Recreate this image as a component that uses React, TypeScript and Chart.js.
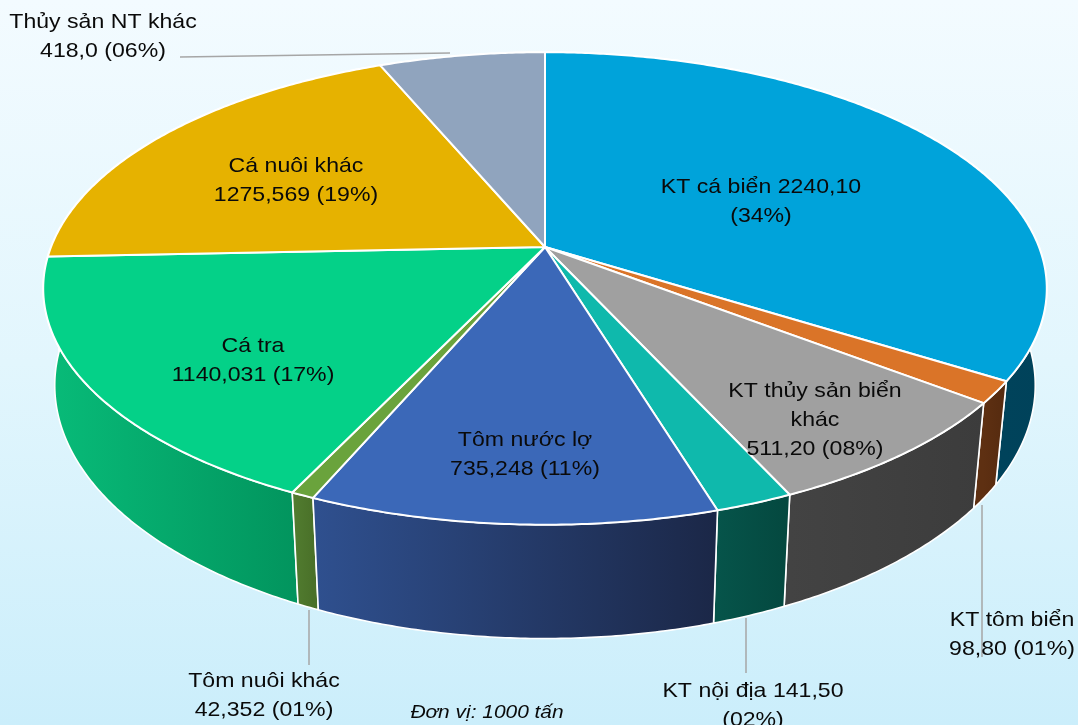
import React, { useEffect, useRef } from 'react';
import { Chart, registerables } from 'chart.js';

Chart.register(...registerables);

// ---- data ----
const categories = [
  'KT cá biển',
  'KT tôm biển',
  'KT thủy sản biển khác',
  'KT nội địa',
  'Tôm nước lợ',
  'Tôm nuôi khác',
  'Cá tra',
  'Cá nuôi khác',
  'Thủy sản NT khác',
];
const values = [2240.1, 98.8, 511.2, 141.5, 735.248, 42.352, 1140.031, 1275.569, 418.0];
const valueText = ['2240,10', '98,80', '511,20', '141,50', '735,248', '42,352', '1140,031', '1275,569', '418,0'];
const percentText = ['34%', '01%', '08%', '02%', '11%', '01%', '17%', '19%', '06%'];
const unitText = 'Đơn vị: 1000 tấn';

// ---- styles ----
const topColors = ['#00A3DA', '#DA7428', '#A0A0A0', '#0FB9AC', '#3B68B8', '#6AA33C', '#04D188', '#E6B200', '#90A4BE'];
const wallLight = ['#004C66', '#5E3012', '#434343', '#06544A', '#2F508F', '#527D30', '#08BC79', '#B08600', '#6C7C90'];
const wallDark = ['#00425A', '#552A0F', '#3C3C3C', '#04483F', '#1B2747', '#4A7129', '#02955E', '#8A6A00', '#5A6878'];

// ---- label layout ----
const wordsPerLine = [[4, 1], [3, 2], [4, 1, 2], [4, 1], [3, 2], [3, 2], [2, 2], [3, 2], [4, 2]];
const labelAnchors = [
  [761, 193],
  [1012, 626],
  [815, 397],
  [753, 697],
  [525, 446],
  [264, 687],
  [253, 352],
  [296, 172],
  [103, 28],
];
const leaderLines = [
  [180, 57, 450, 53],
  [982, 505, 982, 657],
  [746, 618, 746, 673],
  [309, 610, 309, 665],
];

function buildLines(i: number): string[] {
  const words = `${categories[i]} ${valueText[i]} (${percentText[i]})`.split(' ');
  const out: string[] = [];
  let k = 0;
  for (const n of wordsPerLine[i]) {
    out.push(words.slice(k, k + n).join(' '));
    k += n;
  }
  return out;
}

const pie3d = {
  id: 'pie3d',
  beforeDatasetsDraw(chart: any) {
    const ctx: CanvasRenderingContext2D = chart.ctx;
    const arcs = chart.getDatasetMeta(0).data;
    if (!arcs.length) return false;
    const props = arcs.map((a: any) => a.getProps(['x', 'y', 'startAngle', 'endAngle', 'outerRadius'], true));
    const cx = props[0].x;
    const cy = props[0].y;
    const R = props[0].outerRadius;
    const W = R * 2.0;
    const A = R * 0.927;
    const T = R * 0.38;
    const E = 0.1755;
    const S = 0.977;
    const proj = (th: number, bottom: boolean): [number, number] => {
      const u = Math.cos(th);
      const v = Math.sin(th);
      const d = 1 - E * v;
      return bottom ? [cx + (S * W * u) / d, cy + (A * v + T) / d] : [cx + (W * u) / d, cy + (A * v) / d];
    };
    const sample = (s: number, e: number) => {
      const n = Math.max(2, Math.ceil((e - s) / (Math.PI / 360)));
      const pts: number[] = [];
      for (let i = 0; i <= n; i++) pts.push(s + ((e - s) * i) / n);
      return pts;
    };

    ctx.save();
    ctx.lineJoin = 'round';
    // walls, back to front
    const order = props
      .map((_: any, i: number) => i)
      .sort(
        (i: number, j: number) =>
          Math.sin((props[i].startAngle + props[i].endAngle) / 2) -
          Math.sin((props[j].startAngle + props[j].endAngle) / 2)
      );
    for (const i of order) {
      const p = props[i];
      const angs = sample(p.startAngle, p.endAngle);
      const topPts = angs.map((t) => proj(t, false));
      const botPts = angs.map((t) => proj(t, true)).reverse();
      let minX = Infinity;
      let maxX = -Infinity;
      topPts.forEach(([x]) => {
        minX = Math.min(minX, x);
        maxX = Math.max(maxX, x);
      });
      const g = ctx.createLinearGradient(minX, 0, Math.max(maxX, minX + 1), 0);
      g.addColorStop(0, wallLight[i]);
      g.addColorStop(1, wallDark[i]);
      ctx.beginPath();
      topPts.forEach(([x, y], k) => (k ? ctx.lineTo(x, y) : ctx.moveTo(x, y)));
      botPts.forEach(([x, y]) => ctx.lineTo(x, y));
      ctx.closePath();
      ctx.fillStyle = g;
      ctx.fill();
      ctx.strokeStyle = '#FFFFFF';
      ctx.lineWidth = 1.6;
      ctx.stroke();
    }
    // top surface
    props.forEach((p: any, i: number) => {
      const angs = sample(p.startAngle, p.endAngle);
      ctx.beginPath();
      ctx.moveTo(cx, cy);
      angs.forEach((t) => {
        const [x, y] = proj(t, false);
        ctx.lineTo(x, y);
      });
      ctx.closePath();
      ctx.fillStyle = topColors[i];
      ctx.fill();
      ctx.strokeStyle = '#FFFFFF';
      ctx.lineWidth = 2;
      ctx.stroke();
    });
    ctx.restore();
    return false;
  },
  afterDraw(chart: any) {
    const ctx: CanvasRenderingContext2D = chart.ctx;
    ctx.save();
    // leader lines
    ctx.strokeStyle = '#A6A6A6';
    ctx.lineWidth = 1.5;
    leaderLines.forEach(([x1, y1, x2, y2]) => {
      ctx.beginPath();
      ctx.moveTo(x1, y1);
      ctx.lineTo(x2, y2);
      ctx.stroke();
    });
    ctx.fillStyle = '#0A0A0A';
    ctx.textAlign = 'center';
    ctx.textBaseline = 'alphabetic';
    ctx.font = "21px 'Liberation Sans', Arial, sans-serif";
    const lh = 29;
    categories.forEach((_, i) => {
      const [x, y] = labelAnchors[i];
      buildLines(i).forEach((line, k) => {
        ctx.save();
        ctx.translate(x, y + k * lh);
        ctx.scale(1.1, 1);
        ctx.fillText(line, 0, 0);
        ctx.restore();
      });
    });
    ctx.font = "italic 19px 'Liberation Sans', Arial, sans-serif";
    ctx.save();
    ctx.translate(487, 718);
    ctx.scale(1.1, 1);
    ctx.fillText(unitText, 0, 0);
    ctx.restore();
    ctx.restore();
  },
};

export default function App() {
  const canvasRef = useRef<HTMLCanvasElement | null>(null);
  useEffect(() => {
    if (!canvasRef.current) return;
    const chart = new Chart(canvasRef.current, {
      type: 'pie',
      data: {
        labels: categories,
        datasets: [
          {
            data: values,
            backgroundColor: topColors,
            borderWidth: 0,
          },
        ],
      },
      options: {
        responsive: false,
        animation: false,
        events: [],
        layout: { padding: { left: 12, right: 0, top: 0, bottom: 231 } },
        plugins: {
          legend: { display: false },
          tooltip: { enabled: false },
        },
      },
      plugins: [pie3d as any],
    });
    return () => chart.destroy();
  }, []);
  return (
    <div
      style={{
        position: 'fixed',
        left: 0,
        top: 0,
        width: 1078,
        height: 725,
        background: 'linear-gradient(to bottom, #F3FBFF 0%, #E2F6FD 50%, #CBEEFB 100%)',
      }}
    >
      <canvas ref={canvasRef} width={1078} height={725} style={{ display: 'block' }} />
    </div>
  );
}
